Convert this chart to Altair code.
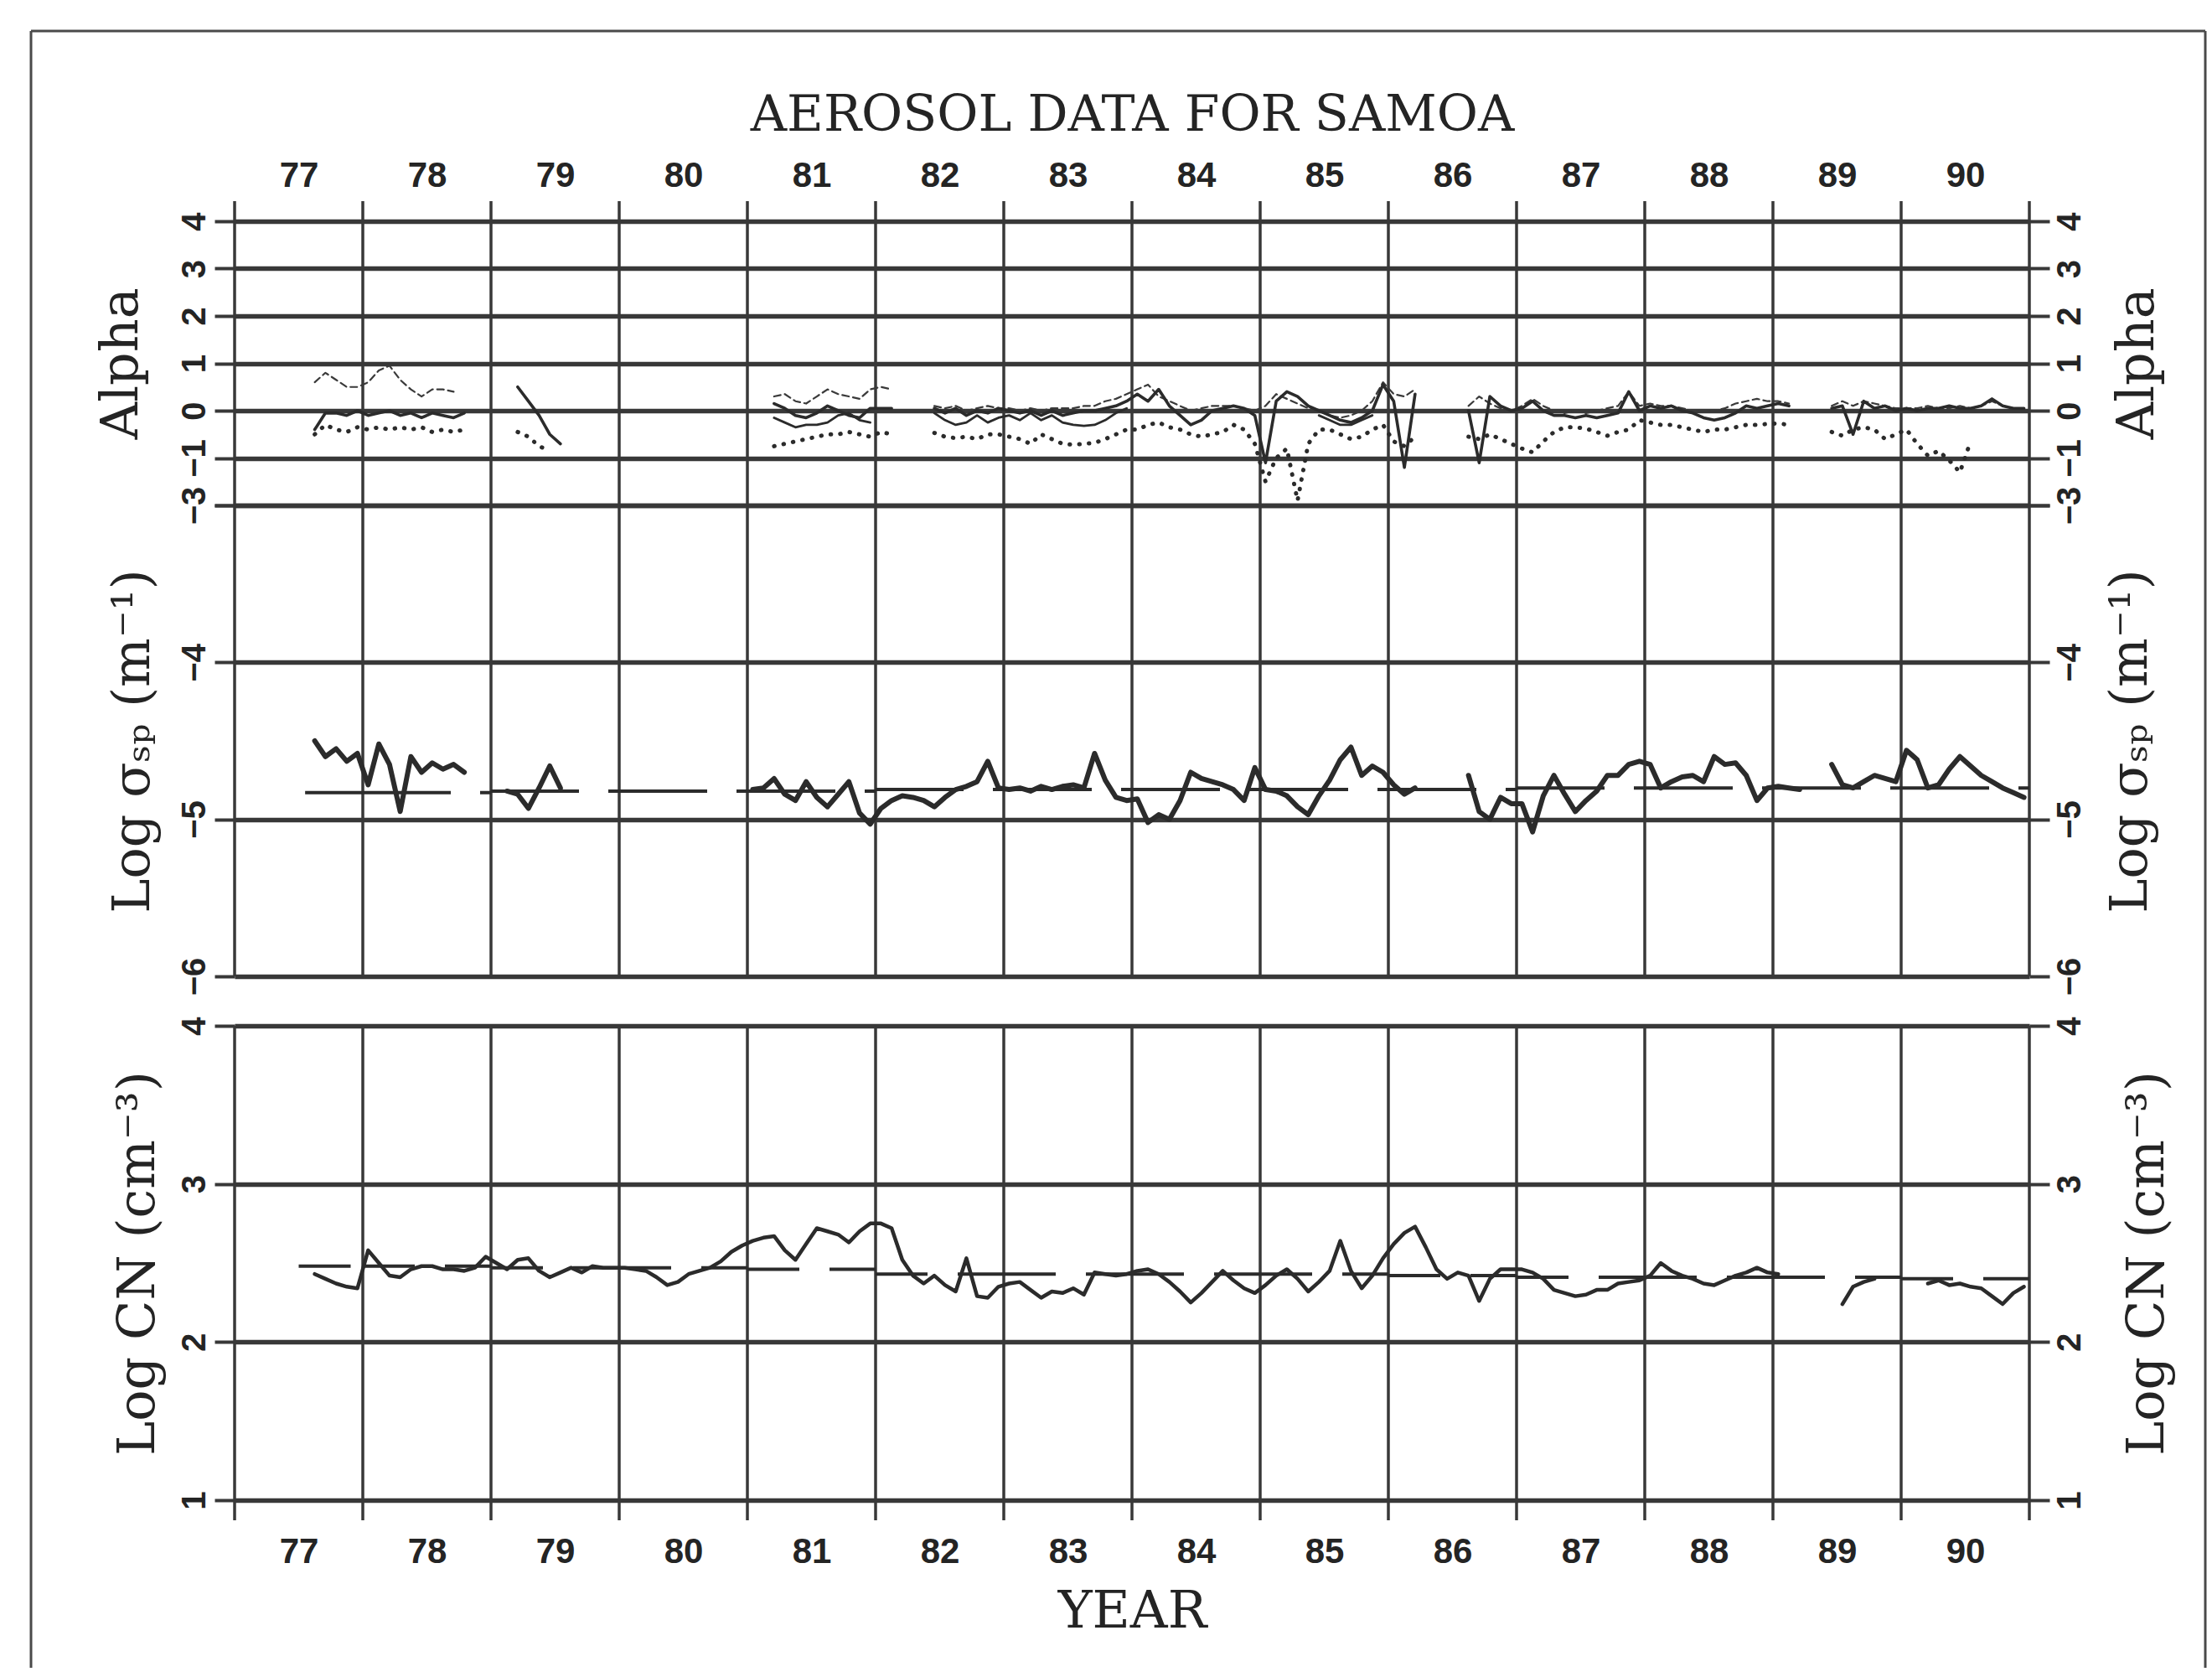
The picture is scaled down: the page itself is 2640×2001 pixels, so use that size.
import altair as alt
import pandas as pd

N = None

# ---------------- data ----------------
YEARS = [77, 78, 79, 80, 81, 82, 83, 84, 85, 86, 87, 88, 89, 90]
EDGES = [77, 78, 79, 80, 81, 82, 83, 84, 85, 86, 87, 88, 89, 90, 91]
YEAR_LABEL_POS = [77.5, 78.5, 79.5, 80.5, 81.5, 82.5, 83.5, 84.5, 85.5, 86.5, 87.5, 88.5, 89.5, 90.5]

ALPHA_TICKS = [-2, -1, 0, 1, 2, 3, 4]
SIGMA_TICKS = [-6, -5, -4, -3]
CN_TICKS = [1, 2, 3, 4]

# Alpha (monthly values, None = no data)
ALPHA_UPPER = {
    77: [N, N, N, N, N, N, N, 0.6, 0.8, 0.65, 0.5, 0.5],
    78: [0.6, 0.85, 0.95, 0.65, 0.45, 0.3, 0.45, 0.45, 0.4, N, N, N],
    81: [N, N, 0.3, 0.35, 0.2, 0.15, 0.3, 0.45, 0.35, 0.3, 0.25, 0.45],
    82: [0.5, 0.45, N, N, N, 0.1, 0.05, 0.1, 0.0, 0.05, 0.1, 0.05],
    83: [0.05, 0.0, 0.05, 0.0, 0.05, 0.05, 0.05, 0.1, 0.1, 0.2, 0.25, 0.35],
    84: [0.45, 0.55, 0.3, 0.2, 0.1, 0.0, 0.05, 0.1, 0.1, 0.1, 0.05, 0.0],
    85: [0.1, 0.35, 0.25, 0.15, 0.05, 0.0, -0.1, -0.15, -0.1, 0.0, 0.2, 0.6],
    86: [0.35, 0.3, 0.45, N, N, N, N, 0.1, 0.3, 0.15, 0.05, 0.0],
    87: [0.1, 0.25, 0.1, 0.0, -0.05, 0.0, -0.05, 0.0, 0.05, 0.1, 0.4, 0.1],
    88: [0.15, 0.1, 0.1, 0.05, 0.0, 0.0, 0.0, 0.05, 0.15, 0.2, 0.25, 0.2],
    89: [0.2, 0.15, N, N, N, 0.1, 0.2, 0.1, 0.2, 0.15, 0.1, 0.05],
    90: [0.05, 0.05, 0.1, 0.05, 0.05, 0.1, 0.05, 0.1, 0.2, 0.1, 0.05, 0.05],
}
ALPHA_MAIN = {
    77: [N, N, N, N, N, N, N, -0.4, -0.05, -0.05, -0.1, 0.0],
    78: [-0.1, -0.05, 0.0, -0.1, -0.05, -0.15, -0.05, -0.1, -0.15, -0.05, N, N],
    79: [N, N, 0.5, 0.2, -0.1, -0.5, -0.7, N, N, N, N, N],
    81: [N, N, 0.15, 0.05, -0.1, -0.15, -0.05, 0.1, 0.0, -0.1, -0.15, 0.05],
    82: [0.05, 0.05, N, N, N, 0.05, -0.05, 0.05, -0.1, 0.0, -0.05, 0.05],
    83: [0.0, -0.05, 0.0, -0.1, 0.0, -0.1, -0.05, 0.0, 0.0, 0.05, 0.1, 0.2],
    84: [0.35, 0.2, 0.45, 0.1, -0.1, -0.3, -0.2, 0.0, 0.05, 0.1, 0.05, -0.1],
    85: [-1.1, 0.2, 0.4, 0.3, 0.1, 0.0, -0.1, -0.2, -0.25, -0.15, 0.0, 0.55],
    86: [0.2, -1.2, 0.35, N, N, N, N, 0.0, -1.1, 0.3, 0.1, 0.0],
    87: [0.05, 0.2, 0.0, -0.1, -0.1, -0.15, -0.1, -0.15, -0.1, -0.05, 0.4, 0.0],
    88: [0.1, 0.05, 0.1, 0.0, -0.05, -0.15, -0.2, -0.15, -0.05, 0.1, 0.05, 0.1],
    89: [0.15, 0.1, N, N, N, 0.05, 0.1, -0.5, 0.2, 0.05, 0.1, 0.0],
    90: [0.05, 0.0, 0.05, 0.05, 0.1, 0.05, 0.05, 0.1, 0.25, 0.1, 0.05, 0.05],
}
ALPHA_SECOND = {
    81: [N, N, -0.15, -0.25, -0.35, -0.3, -0.3, -0.25, -0.1, -0.05, -0.2, -0.25],
    82: [N, N, N, N, N, -0.05, -0.2, -0.3, -0.25, -0.1, -0.25, -0.15],
    83: [-0.1, -0.2, -0.05, -0.2, -0.1, -0.25, -0.3, -0.32, -0.3, -0.2, -0.05, 0.05],
    85: [N, N, N, N, N, -0.1, -0.2, -0.3, -0.3, -0.2, -0.1, N],
}
ALPHA_LOWER = {
    77: [N, N, N, N, N, N, N, -0.5, -0.3, -0.4, -0.45, -0.35],
    78: [-0.4, -0.35, -0.4, -0.35, -0.4, -0.35, -0.45, -0.4, -0.45, -0.4, N, N],
    79: [N, N, -0.45, -0.55, -0.75, -0.85, N, N, N, N, N, N],
    81: [N, N, -0.75, -0.7, -0.65, -0.6, -0.55, -0.5, -0.5, -0.45, -0.5, -0.55],
    82: [-0.45, -0.5, N, N, N, -0.47, -0.55, -0.58, -0.55, -0.6, -0.5, -0.5],
    83: [-0.55, -0.6, -0.7, -0.5, -0.6, -0.7, -0.72, -0.7, -0.68, -0.6, -0.5, -0.4],
    84: [-0.4, -0.3, -0.25, -0.35, -0.4, -0.5, -0.55, -0.5, -0.45, -0.3, -0.4, -0.7],
    85: [-1.5, -1.0, -0.8, -1.9, -0.7, -0.4, -0.4, -0.5, -0.6, -0.55, -0.4, -0.3],
    86: [-0.65, -0.75, -0.55, N, N, N, N, -0.55, -0.6, -0.5, -0.6, -0.7],
    87: [-0.8, -0.88, -0.65, -0.45, -0.35, -0.35, -0.38, -0.45, -0.53, -0.45, -0.4, -0.2],
    88: [-0.25, -0.3, -0.3, -0.35, -0.4, -0.45, -0.4, -0.4, -0.35, -0.3, -0.3, -0.28],
    89: [-0.27, -0.3, N, N, N, -0.45, -0.53, -0.4, -0.35, -0.4, -0.6, -0.5],
    90: [-0.4, -0.7, -0.95, -0.85, -1.05, -1.3, -0.65, N, N, N, N, N],
}

# Log sigma_sp (m^-1)
SIGMA = {
    77: [N, N, N, N, N, N, N, -4.5, -4.6, -4.55, -4.63, -4.58],
    78: [-4.78, -4.52, -4.65, -4.95, -4.6, -4.7, -4.64, -4.68, -4.65, -4.7, N, N],
    79: [N, -4.82, -4.84, -4.93, -4.8, -4.66, -4.8, N, N, N, N, N],
    81: [-4.81, -4.8, -4.74, -4.84, -4.88, -4.76, -4.86, -4.92, -4.84, -4.76, -4.96, -5.03],
    82: [-4.93, -4.88, -4.85, -4.86, -4.88, -4.92, -4.86, -4.81, -4.79, -4.76, -4.63, -4.8],
    83: [-4.81, -4.8, -4.82, -4.79, -4.81, -4.79, -4.78, -4.8, -4.58, -4.75, -4.86, -4.88],
    84: [-4.87, -5.02, -4.97, -5.0, -4.88, -4.7, -4.74, -4.76, -4.78, -4.81, -4.88, -4.67],
    85: [-4.81, -4.82, -4.85, -4.92, -4.97, -4.85, -4.75, -4.62, -4.54, -4.72, -4.66, -4.7],
    86: [-4.78, -4.84, -4.8, N, N, N, N, -4.72, -4.95, -5.0, -4.86, -4.9],
    87: [-4.9, -5.08, -4.85, -4.72, -4.84, -4.95, -4.88, -4.82, -4.72, -4.72, -4.65, -4.63],
    88: [-4.65, -4.8, -4.76, -4.73, -4.72, -4.76, -4.6, -4.65, -4.64, -4.72, -4.88, -4.8],
    89: [-4.79, -4.8, -4.81, N, N, -4.65, -4.78, -4.8, -4.76, -4.72, -4.74, -4.76],
    90: [-4.56, -4.62, -4.8, -4.78, -4.68, -4.6, -4.66, -4.72, -4.76, -4.8, -4.83, -4.86],
}
SIGMA_REF = [-4.83, -4.83, -4.82, -4.82, -4.82, -4.81, -4.81, -4.81, -4.81, -4.81, -4.80, -4.80, -4.80, -4.80]
SIGMA_REF_START = 77.55

# Log CN (cm^-3)
CN = {
    77: [N, N, N, N, N, N, N, 2.43, 2.4, 2.37, 2.35, 2.34],
    78: [2.58, 2.5, 2.42, 2.41, 2.46, 2.48, 2.48, 2.46, 2.46, 2.45, 2.47, 2.54],
    79: [2.5, 2.46, 2.52, 2.53, 2.45, 2.41, 2.44, 2.47, 2.44, 2.48, 2.47, 2.47],
    80: [2.47, 2.46, 2.45, 2.41, 2.36, 2.38, 2.43, 2.45, 2.47, 2.51, 2.57, 2.61],
    81: [2.64, 2.66, 2.67, 2.58, 2.52, 2.62, 2.72, 2.7, 2.68, 2.63, 2.7, 2.75],
    82: [2.75, 2.72, 2.52, 2.42, 2.37, 2.42, 2.36, 2.32, 2.53, 2.29, 2.28, 2.35],
    83: [2.37, 2.38, 2.33, 2.28, 2.32, 2.31, 2.34, 2.3, 2.44, 2.43, 2.42, 2.43],
    84: [2.45, 2.46, 2.43, 2.38, 2.32, 2.25, 2.31, 2.38, 2.45, 2.39, 2.34, 2.31],
    85: [2.36, 2.42, 2.46, 2.4, 2.32, 2.38, 2.45, 2.64, 2.45, 2.34, 2.42, 2.53],
    86: [2.62, 2.69, 2.73, 2.6, 2.46, 2.4, 2.44, 2.42, 2.26, 2.4, 2.46, 2.46],
    87: [2.46, 2.44, 2.4, 2.33, 2.31, 2.29, 2.3, 2.33, 2.33, 2.37, 2.38, 2.39],
    88: [2.42, 2.5, 2.45, 2.42, 2.4, 2.37, 2.36, 2.39, 2.42, 2.44, 2.47, 2.44],
    89: [2.43, N, N, N, N, N, 2.24, 2.35, 2.38, 2.4, N, N],
    90: [N, N, 2.37, 2.39, 2.36, 2.37, 2.35, 2.34, 2.29, 2.24, 2.31, 2.35],
}
CN_REF = [2.48, 2.48, 2.47, 2.47, 2.46, 2.43, 2.43, 2.43, 2.43, 2.42, 2.41, 2.41, 2.41, 2.40]
CN_REF_START = 77.5


def monthly_frame(series_by_year):
    rows, seg, gap = [], 0, True
    for yr in YEARS:
        vals = series_by_year.get(yr, [None] * 12)
        for m, v in enumerate(vals):
            if v is None:
                gap = True
                continue
            if gap:
                seg += 1
                gap = False
            rows.append({"t": yr + (m + 0.5) / 12.0, "v": v, "seg": seg})
    return pd.DataFrame(rows)


def ref_frame(levels, first_start):
    rows = []
    for yr, lv in zip(YEARS, levels):
        rows.append({"start": first_start if yr == YEARS[0] else yr, "end": yr + 1, "level": lv})
    return pd.DataFrame(rows)


# ---------------- styling ----------------
INK = "#242424"
GRID = "#383838"
LINE = "#2b2b2b"
SERIF = "DejaVu Serif"
NUMF = "Liberation Sans"

W = 2142
H_TOP = 339
H_MID_PLOT = 562
H_MID = 621
H_BOT = 566
TICK = 24

xscale = alt.Scale(domain=[77, 91], nice=False, zero=False)
edges_df = pd.DataFrame({"edge": EDGES})
one = pd.DataFrame({"k": [0]})


def y_axis(side, title, values, tpad, label_expr=None):
    kw = dict(
        orient=side, values=values, domain=False, ticks=True, tickSize=TICK,
        tickWidth=4, tickColor=GRID, labelAngle=270, labelAlign="center",
        labelBaseline="bottom" if side == "left" else "top", labelPadding=4,
        labelFont=NUMF, labelFontWeight="bold", labelFontSize=40, labelColor=INK,
        labelFlush=False, labelOverlap=False, title=title, titleFont=SERIF,
        titleFontSize=62, titleFontWeight="normal", titleColor=INK, titleAngle=270,
        titleBaseline="bottom" if side == "left" else "top",
        titlePadding=tpad,
    )
    if side == "left":
        kw.update(grid=True, gridColor=GRID, gridWidth=5.5, gridOpacity=1)
    else:
        kw.update(grid=False)
    if label_expr is not None:
        kw["labelExpr"] = label_expr
    return alt.Axis(**kw)


def x_label_axis(side, title, pad, tpad, tsize):
    return alt.Axis(
        orient=side, values=YEAR_LABEL_POS, labelExpr="format(floor(datum.value), 'd')",
        ticks=False, tickSize=0, domain=False, grid=False, labelFont=NUMF,
        labelFontWeight="bold", labelFontSize=42, labelColor=INK, labelPadding=pad,
        labelFlush=False, labelOverlap=False, title=title, titleFont=SERIF,
        titleFontSize=tsize, titleFontWeight="normal", titleColor=INK, titlePadding=tpad,
    )


def line_layer(df, yscale, axis, width, dash=None, color=LINE):
    kw = dict(color=color, strokeWidth=width, strokeJoin="round", strokeCap="round")
    if dash is not None:
        kw["strokeDash"] = dash
    return alt.Chart(df).mark_line(**kw).encode(
        x=alt.X("t:Q", scale=xscale, axis=None),
        y=alt.Y("v:Q", scale=yscale, axis=axis),
        detail="seg:N",
    )


def ref_layer(df, yscale, axis, dash):
    return alt.Chart(df).mark_rule(color=LINE, strokeWidth=4, strokeDash=dash).encode(
        x=alt.X("start:Q", scale=xscale, axis=None),
        x2="end:Q",
        y=alt.Y("level:Q", scale=yscale, axis=axis),
    )


# ---------------- top panel: Alpha ----------------
ys_a = alt.Scale(domain=[-2, 4], nice=False, zero=False)
frame_kw = dict(color="#4a4a4a", strokeWidth=3)
frame_left = alt.Chart(one).mark_rule(**frame_kw).encode(
    x=alt.value(-243), y=alt.value(-227), y2=alt.value(1726))
frame_top = alt.Chart(one).mark_rule(**frame_kw).encode(
    x=alt.value(-243), x2=alt.value(2352), y=alt.value(-227))
frame_right = alt.Chart(one).mark_rule(**frame_kw).encode(
    x=alt.value(2352), y=alt.value(-227), y2=alt.value(1726))

edges_top = alt.Chart(edges_df).mark_rule(color=GRID, strokeWidth=3.5).encode(
    x=alt.X("edge:Q", scale=xscale,
            axis=x_label_axis("top", "AEROSOL DATA FOR SAMOA", 33, 20, 60)),
    y=alt.value(-TICK), y2=alt.value(H_TOP))

ALPHA_LABELS = "datum.value == -2 ? '' : datum.label"
top = alt.layer(
    frame_left, frame_top, frame_right, edges_top,
    line_layer(monthly_frame(ALPHA_UPPER), ys_a,
               y_axis("left", "Alpha", ALPHA_TICKS, 36, ALPHA_LABELS),
               2.2, dash=[8, 5], color="#3a3a3a"),
    line_layer(monthly_frame(ALPHA_MAIN), ys_a,
               y_axis("right", "Alpha", ALPHA_TICKS, 30, ALPHA_LABELS),
               3.6),
    line_layer(monthly_frame(ALPHA_SECOND), ys_a, None, 2.8),
    line_layer(monthly_frame(ALPHA_LOWER), ys_a, None, 5, dash=[0.5, 11]),
).resolve_axis(x="independent", y="independent").properties(width=W, height=H_TOP)

# ---------------- middle panel: Log sigma_sp ----------------
ys_s = alt.Scale(domain=[-6, -3], range=[H_MID_PLOT, 0], nice=False, zero=False)
edges_mid = alt.Chart(edges_df).mark_rule(color=GRID, strokeWidth=3.5).encode(
    x=alt.X("edge:Q", scale=xscale, axis=None),
    y=alt.value(0), y2=alt.value(H_MID_PLOT))
mid = alt.layer(
    edges_mid,
    ref_layer(ref_frame(SIGMA_REF, SIGMA_REF_START), ys_s,
              y_axis("right", "Log σₛₚ (m⁻¹)", SIGMA_TICKS, 22), [105, 35]),
    line_layer(monthly_frame(SIGMA), ys_s,
               y_axis("left", "Log σₛₚ (m⁻¹)", SIGMA_TICKS, 22), 6),
).resolve_axis(x="independent", y="independent").properties(width=W, height=H_MID)

# ---------------- bottom panel: Log CN ----------------
ys_c = alt.Scale(domain=[1, 4], nice=False, zero=False)
edges_bot = alt.Chart(edges_df).mark_rule(color=GRID, strokeWidth=3.5).encode(
    x=alt.X("edge:Q", scale=xscale, axis=x_label_axis("bottom", "YEAR", 41, 20, 62)),
    y=alt.value(0), y2=alt.value(H_BOT + TICK))
bot = alt.layer(
    edges_bot,
    ref_layer(ref_frame(CN_REF, CN_REF_START), ys_c,
              y_axis("right", "Log CN (cm⁻³)", CN_TICKS, 42), [62, 36]),
    line_layer(monthly_frame(CN), ys_c,
               y_axis("left", "Log CN (cm⁻³)", CN_TICKS, 16), 4.5),
).resolve_axis(x="independent", y="independent").properties(width=W, height=H_BOT)

chart = alt.vconcat(top, mid, bot, spacing=0, bounds="flush").properties(
    padding={"left": 35, "top": 35, "right": 0, "bottom": 0},
    background="white",
).configure_view(stroke=None)

chart.save("out.html", embed_options={"renderer": "svg", "actions": False})
